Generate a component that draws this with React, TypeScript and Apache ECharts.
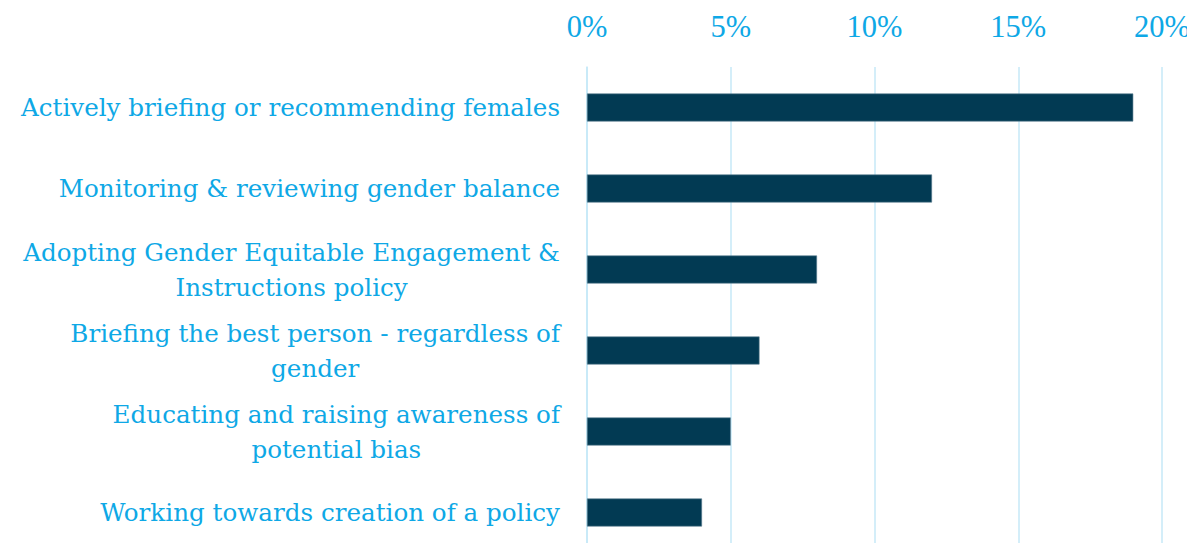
import React, { useEffect, useRef } from "react";
import * as echarts from "echarts";

const categories = [
  "Actively briefing or recommending females",
  "Monitoring & reviewing gender balance",
  "Adopting Gender Equitable Engagement &\nInstructions policy",
  "Briefing the best person - regardless of\ngender",
  "Educating and raising awareness of\npotential bias",
  "Working towards creation of a policy",
];
const values = [19, 12, 8, 6, 5, 4];
const tickValues = [0, 5, 10, 15, 20];

const FONT = "DejaVu Serif";
const TICK_FONT = "Liberation Serif";
const BLUE = "#0ea8e6";
const SIZE = 24.6;

export default function App() {
  const ref = useRef<HTMLDivElement>(null);
  useEffect(() => {
    if (!ref.current) return;
    const chart = echarts.init(ref.current, undefined, { renderer: "svg" });
    chart.setOption({
      animation: false,
      grid: {
        left: 587,
        right: 33,
        top: 67,
        height: 486,
        containLabel: false,
        outerBoundsMode: "none",
      },
      xAxis: {
        type: "value",
        position: "top",
        min: tickValues[0],
        max: tickValues[tickValues.length - 1],
        interval: 5,
        axisLine: { show: false },
        axisTick: { show: false },
        splitLine: { show: true, lineStyle: { color: "#c6e8f7", width: 1.5 } },
        axisLabel: {
          formatter: (v: number) => v + "%",
          color: BLUE,
          fontFamily: TICK_FONT,
          fontSize: 30.5,
          margin: 25,
        },
      },
      yAxis: {
        type: "category",
        inverse: true,
        data: categories,
        axisLine: { show: true, lineStyle: { color: "#c6e8f7", width: 1.5 } },
        axisTick: { show: false },
        axisLabel: {
          margin: 27,
          align: "right",
          color: BLUE,
          fontFamily: FONT,
          fontSize: SIZE,
          lineHeight: 35,
          formatter: (v: string) =>
            v
              .split("\n")
              .map((l) => "{c|" + l + "}")
              .join("\n"),
          rich: {
            c: {
              align: "center",
              color: BLUE,
              fontFamily: FONT,
              fontSize: SIZE,
              lineHeight: 35,
            },
          },
        },
      },
      series: [
        {
          type: "bar",
          data: values,
          barWidth: 28,
          itemStyle: { color: "#023a53", borderColor: "#5a7c8f", borderWidth: 0.6 },
        },
      ],
    });
    return () => chart.dispose();
  }, []);
  return <div ref={ref} style={{ width: 1195, height: 551, margin: -8 }} />;
}
